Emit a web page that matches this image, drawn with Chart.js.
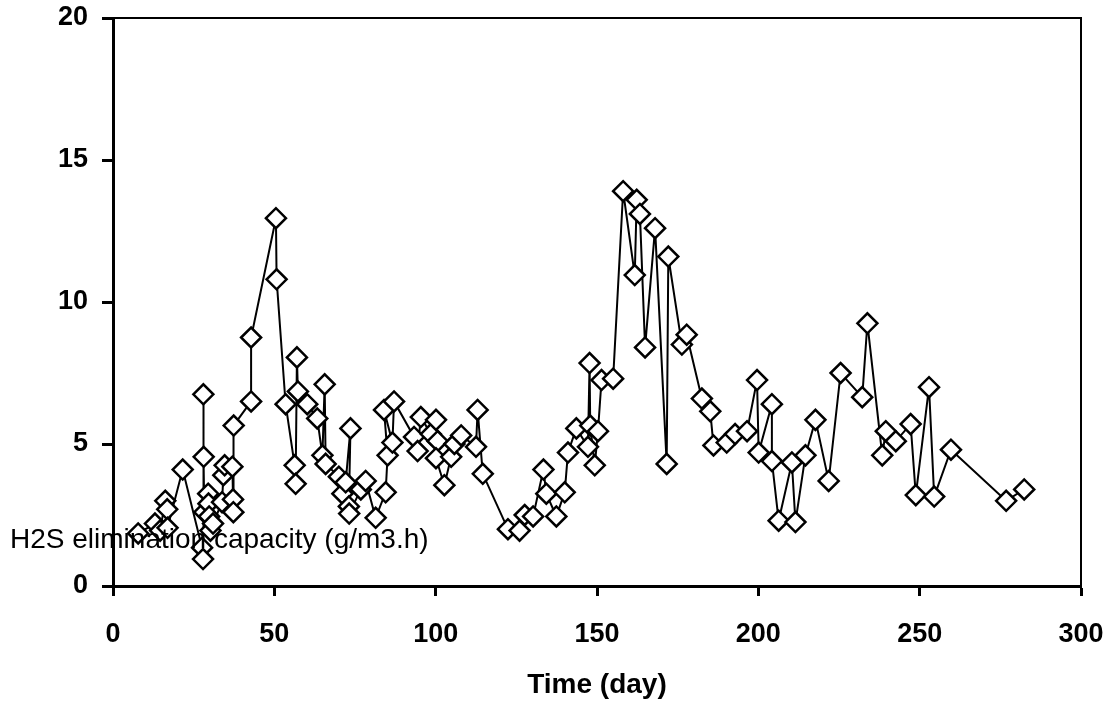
<!DOCTYPE html>
<html lang="en">
  <head>
    <meta charset="UTF-8" />
    <title>H2S elimination capacity</title>
    <script src="https://cdn.jsdelivr.net/npm/chart.js"></script>
    <style>
      body { margin: 0; background: #fff; }
      #wrap { width: 1116px; height: 707px; }
    </style>
  </head>
  <body>
    <div id="wrap"><canvas id="ec-chart" width="1116" height="707"></canvas></div>

    <script>
      // Time (day)
      const days = [
        7.8, 13.0, 14.6, 16.2, 16.8, 16.9, 21.6, 27.6, 27.9, 28.0, 28.1, 28.3, 29.5, 29.6, 29.8, 30.2, 31.0,
        33.8, 34.2, 34.6, 37.0, 37.2, 37.3, 37.4, 42.8, 42.8, 50.5, 50.7, 53.5, 56.3, 56.6, 57.0, 57.3,
        60.2, 63.3, 64.9, 65.6, 65.9, 70.0, 71.1, 72.1, 73.6, 73.1, 73.2, 76.8, 78.3, 81.4, 84.5, 85.1,
        84.0, 86.6, 87.1, 93.3, 94.4, 95.4, 98.5, 100.1, 100.6, 100.1, 102.7, 104.8, 105.8, 107.9,
        112.5, 113.0, 114.6, 122.4, 126.0, 127.6, 130.2, 133.4, 134.3, 137.4, 140.0, 141.0, 143.6,
        147.2, 147.7, 147.9, 149.3, 150.3, 151.4, 155.0, 158.1, 161.7, 162.3, 163.3, 164.9, 168.0,
        171.6, 172.1, 176.3, 177.8, 182.5, 185.1, 186.1, 190.2, 192.8, 196.5, 199.6, 200.1, 204.2,
        204.2, 206.3, 210.4, 211.5, 214.6, 217.7, 221.8, 225.5, 232.2, 233.8, 238.4, 239.5, 242.6,
        247.2, 248.8, 252.9, 254.5, 259.7, 276.8, 282.4,
      ];
      // H2S elimination capacity (g/m3.h)
      const capacity = [
        1.85, 2.2, 1.95, 3.0, 2.7, 2.05, 4.1, 1.35, 0.95, 6.75, 4.55, 2.6, 3.25, 2.9, 2.45, 1.95, 2.2,
        2.95, 3.9, 4.25, 4.2, 3.05, 2.6, 5.65, 6.5, 8.75, 12.95, 10.8, 6.4, 4.25, 3.6, 8.05, 6.85,
        6.4, 5.9, 4.6, 7.1, 4.3, 3.85, 3.25, 3.65, 5.55, 2.8, 2.55, 3.4, 3.7, 2.4, 3.3, 4.6,
        6.2, 5.05, 6.5, 5.25, 4.75, 5.95, 5.35, 5.85, 5.1, 4.5, 3.55, 4.55, 5.0, 5.3,
        4.9, 6.2, 3.95, 2.0, 1.95, 2.5, 2.45, 4.1, 3.25, 2.45, 3.3, 4.7, 5.55,
        4.9, 7.85, 5.65, 4.25, 5.45, 7.25, 7.3, 13.9, 10.95, 13.6, 13.1, 8.4, 12.6,
        4.3, 11.6, 8.5, 8.85, 6.6, 6.15, 4.95, 5.05, 5.35, 5.45, 7.25, 4.7, 6.4,
        4.4, 2.3, 4.35, 2.25, 4.6, 5.85, 3.7, 7.5, 6.65, 9.25, 4.6, 5.45, 5.1,
        5.7, 3.2, 7.0, 3.15, 4.8, 3.0, 3.4,
      ];
      const xTicks = [0, 50, 100, 150, 200, 250, 300];
      const yTicks = [0, 5, 10, 15, 20];
      const xTitle = "Time (day)";
      const yTitle = "H2S elimination capacity (g/m3.h)";

      const FONT = "'Liberation Sans', Arial, sans-serif";

      // cadre haut + droite et titre de l'axe y (posé en travers du graphe)
      const framePlugin = {
        id: "frame",
        afterDraw(chart) {
          const { ctx, chartArea: a } = chart;
          ctx.save();
          ctx.strokeStyle = "#000";
          ctx.lineWidth = 2;
          ctx.beginPath();
          ctx.moveTo(a.left, a.top);
          ctx.lineTo(a.right, a.top);
          ctx.lineTo(a.right, a.bottom);
          ctx.stroke();

          ctx.fillStyle = "#000";
          ctx.font = "28px " + FONT;
          ctx.textBaseline = "alphabetic";
          ctx.textAlign = "left";
          ctx.fillText(yTitle, 10, 548);
          ctx.restore();
        },
      };

      // pas de marge auto autour des étiquettes : la zone du graphe est fixée à la main
      function noAutoPad(s) {
        s.paddingTop = 0;
        s.paddingBottom = 0;
        s.paddingLeft = 0;
        s.paddingRight = 0;
      }

      const ctx = document.getElementById("ec-chart").getContext("2d");
      new Chart(ctx, {
        type: "line",
        data: {
          datasets: [
            {
              data: days.map((d, i) => ({ x: d, y: capacity[i] })),
              borderColor: "#000",
              borderWidth: 2,
              tension: 0,
              pointStyle: "rectRot",
              pointRadius: 10,
              pointBorderWidth: 2.5,
              pointBorderColor: "#000",
              pointBackgroundColor: "#fff",
            },
          ],
        },
        options: {
          responsive: false,
          animation: false,
          layout: { padding: { top: 18, right: 35, left: 0, bottom: 0 } },
          plugins: { legend: { display: false }, tooltip: { enabled: false } },
          scales: {
            x: {
              type: "linear",
              min: 0,
              max: 300,
              afterBuildTicks: (s) => { s.ticks = xTicks.map((v) => ({ value: v })); },
              afterFit: (s) => { s.height = 121; noAutoPad(s); },
              grid: { drawOnChartArea: false, tickLength: 10, tickWidth: 3, tickColor: "#000" },
              border: { display: true, color: "#000", width: 3 },
              ticks: { color: "#000", padding: 22, maxRotation: 0, font: { family: FONT, size: 27, weight: "bold" } },
              title: {
                display: true,
                text: xTitle,
                color: "#000",
                padding: { top: 0, bottom: 5 },
                font: { family: FONT, size: 28, weight: "bold" },
              },
            },
            y: {
              min: 0,
              max: 20,
              afterBuildTicks: (s) => { s.ticks = yTicks.map((v) => ({ value: v })); },
              afterFit: (s) => { s.width = 113; noAutoPad(s); },
              grid: { drawOnChartArea: false, tickLength: 11, tickWidth: 3, tickColor: "#000" },
              border: { display: true, color: "#000", width: 3 },
              ticks: { color: "#000", padding: 14, font: { family: FONT, size: 27, weight: "bold" } },
            },
          },
        },
        plugins: [framePlugin],
      });
    </script>
  </body>
</html>
